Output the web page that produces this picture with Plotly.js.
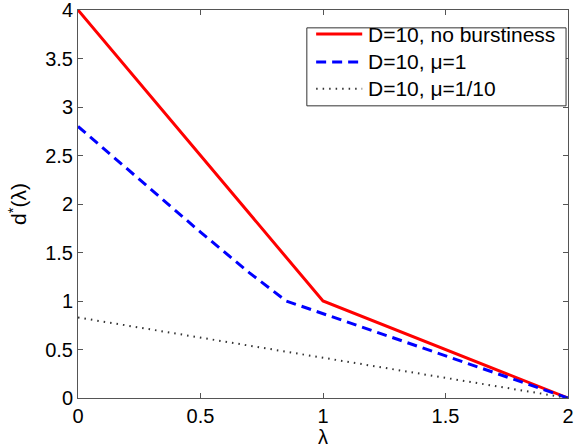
<!DOCTYPE html>
<html><head><meta charset="utf-8">
<script src="https://cdn.plot.ly/plotly-3.0.1.min.js"></script>
<style>body{margin:0;background:#fff}#c{width:575px;height:448px}</style>
</head><body><div id="c"></div>
<script>
const redX = [0, 1, 2];
const redY = [4, 1, 0];
const blueX = [0, 0.25, 0.5, 0.7, 0.85, 2];
const blueY = [2.8, 2.25, 1.71, 1.29, 1.0, 0];
const dotX = [0, 2];
const dotY = [0.83, 0];
const names = ["D=10, no burstiness", "D=10, μ=1", "D=10, μ=1/10"];
const xTicks = [0, 0.5, 1, 1.5, 2];
const yTicks = [0, 0.5, 1, 1.5, 2, 2.5, 3, 3.5, 4];

const font = "Liberation Sans, Arial, Helvetica, sans-serif";
const styles = [
  {color: "#ff0000", width: 3, dash: "solid"},
  {color: "#0000ff", width: 3, dash: "10px,6px"},
  {color: "#333333", width: 2, dash: "1.5px,5px"}
];
const traces = [
  {x: redX, y: redY, mode: "lines", name: names[0], line: styles[0]},
  {x: blueX, y: blueY, mode: "lines", name: names[1], line: styles[1]},
  {x: dotX, y: dotY, mode: "lines", name: names[2], line: styles[2]}
];

// manual legend (paper coordinates)
const legBox = {x0: 0.467, x1: 0.996, y0: 0.753, y1: 0.954};
const rowY = [0.938, 0.866, 0.797];
const shapes = [{type: "rect", xref: "paper", yref: "paper", x0: legBox.x0, x1: legBox.x1, y0: legBox.y0, y1: legBox.y1,
  line: {color: "#333", width: 1}, fillcolor: "#fff", layer: "above"}];
const annotations = [];
names.forEach((n, i) => {
  shapes.push({type: "line", xref: "paper", yref: "paper", x0: 0.486, x1: 0.580, y0: rowY[i], y1: rowY[i],
    line: styles[i], layer: "above"});
  annotations.push({xref: "paper", yref: "paper", x: 0.588, y: rowY[i], xanchor: "left", yanchor: "middle",
    text: n, showarrow: false, font: {family: font, size: 21, color: "#000"}});
});

const axisCommon = {
  showgrid: false, zeroline: false, showline: true, mirror: "ticks",
  linecolor: "#555", linewidth: 1, ticks: "inside", ticklen: 5, tickcolor: "#555",
  ticklabeloverflow: "allow",
  tickfont: {family: font, size: 20, color: "#000"}
};
const layout = {
  width: 575, height: 448,
  margin: {l: 78, r: 7, t: 10, b: 50},
  paper_bgcolor: "#fff", plot_bgcolor: "#fff",
  showlegend: false,
  shapes: shapes, annotations: annotations,
  xaxis: Object.assign({}, axisCommon, {
    range: [0, 2], tickvals: xTicks, ticktext: xTicks.map(String),
    title: {text: "λ", font: {family: font, size: 20, color: "#000"}, standoff: 0}
  }),
  yaxis: Object.assign({}, axisCommon, {
    range: [0, 4], tickvals: yTicks, ticktext: yTicks.map(String),
    title: {text: "d<sup>*</sup>(λ)", font: {family: font, size: 21, color: "#000"}, standoff: 12}
  })
};
Plotly.newPlot("c", traces, layout, {displayModeBar: false, staticPlot: true});
</script></body></html>
